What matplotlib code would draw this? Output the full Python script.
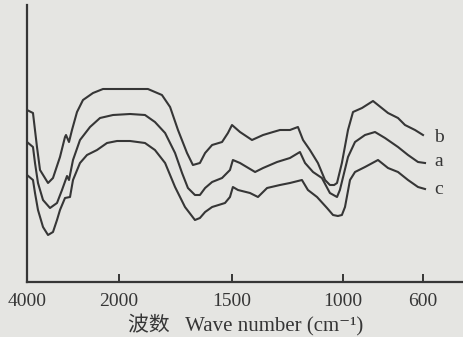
import numpy as np
import matplotlib
matplotlib.use('Agg')
import matplotlib.pyplot as plt


# wavenumbers (cm-1) and transmittance (arbitrary units)
wn_b = [4000, 3870, 3783, 3717, 3543, 3435, 3283, 3174, 3152, 3087, 3022, 2913, 2783, 2565, 2348,
        1951, 1872, 1810, 1774, 1739, 1699, 1673, 1642, 1619, 1588, 1544, 1518, 1500, 1464, 1410,
        1360, 1315, 1284, 1239, 1203, 1180, 1149, 1113, 1081, 1059, 1040, 1027, 1005, 975, 950,
        905, 850, 825, 775, 725, 690, 640, 600]
tr_b = [172, 169, 135, 112, 99, 104, 125, 145, 147, 140, 152, 170, 182, 189, 193,
        193, 193, 187, 175, 152, 129, 117, 119, 129, 137, 140, 149, 157, 150, 142,
        147, 150, 152, 152, 155, 142, 132, 119, 102, 97, 97, 99, 119, 152, 170,
        174, 181, 177, 169, 164, 157, 152, 147]

wn_a = [4000, 3870, 3826, 3761, 3652, 3500, 3348, 3239, 3130, 3087, 3000, 2848, 2630, 2413, 2130,
        1951, 1885, 1841, 1796, 1752, 1721, 1695, 1664, 1642, 1619, 1588, 1544, 1509, 1496, 1464,
        1396, 1360, 1297, 1239, 1194, 1171, 1135, 1095, 1059, 1027, 1014, 975, 940, 890, 840,
        790, 725, 675, 625, 590]
tr_a = [140, 135, 119, 99, 82, 74, 79, 92, 106, 102, 122, 142, 155, 164, 167,
        168, 167, 160, 149, 129, 109, 94, 87, 87, 94, 100, 104, 112, 122, 119,
        110, 114, 120, 124, 130, 119, 110, 104, 89, 85, 92, 125, 140, 147, 150,
        144, 135, 127, 120, 119]

wn_c = [4000, 3870, 3826, 3761, 3652, 3543, 3435, 3348, 3283, 3174, 3065, 3000, 2848, 2696, 2478,
        2261, 2043, 1951, 1885, 1841, 1796, 1752, 1708, 1664, 1642, 1619, 1588, 1531, 1509, 1496,
        1473, 1419, 1383, 1342, 1284, 1239, 1185, 1158, 1117, 1072, 1045, 1023, 1005, 990, 965,
        940, 890, 825, 775, 725, 675, 625, 590]
tr_c = [107, 102, 89, 72, 55, 47, 50, 62, 72, 84, 85, 102, 119, 127, 132,
        139, 141, 141, 139, 132, 119, 95, 75, 62, 64, 70, 75, 79, 85, 95,
        92, 89, 85, 94, 97, 99, 102, 92, 85, 74, 67, 66, 67, 75, 102,
        110, 115, 122, 114, 110, 102, 95, 93]

tick_vals = [4000, 2000, 1500, 1000, 600]
tick_labels = ['4000', '2000', '1500', '1000', '600']

# the printed axis is stretched below 2000 cm-1 (piecewise linear scale)
knots_w = np.array([0, 600, 1000, 1500, 2000, 4000])
knots_p = np.array([0, 120, 200, 311, 424, 516])


def fwd(w):
    return np.interp(np.asarray(w, dtype=float), knots_w, knots_p)


def inv(p):
    return np.interp(np.asarray(p, dtype=float), knots_p, knots_w)


paper = '#e5e5e2'
ink = '#363636'
serif = ['Liberation Serif', 'Noto Sans CJK SC', 'DejaVu Sans']

fig = plt.figure(figsize=(4.64, 3.37), dpi=100)
fig.patch.set_facecolor(paper)
ax = fig.add_axes([27 / 464, 55 / 337, 437 / 464, 277 / 337])
ax.set_facecolor(paper)

ax.set_xscale('function', functions=(fwd, inv))
ax.set_xlim(4000, 395)
ax.set_ylim(0, 277)

for wn, tr in [(wn_b, tr_b), (wn_a, tr_a), (wn_c, tr_c)]:
    ax.plot(wn, tr, color=ink, lw=1.5, solid_joinstyle='round')

ax.text(545, 145, 'b', family=serif, fontsize=14, color=ink, va='center', ha='left')
ax.text(545, 120, 'a', family=serif, fontsize=14, color=ink, va='center', ha='left')
ax.text(545, 92, 'c', family=serif, fontsize=14, color=ink, va='center', ha='left')

ax.spines['top'].set_visible(False)
ax.spines['right'].set_visible(False)
ax.spines['left'].set_linewidth(1.6)
ax.spines['bottom'].set_linewidth(1.6)
ax.spines['left'].set_color(ink)
ax.spines['bottom'].set_color(ink)

ax.set_yticks([])
ax.set_xticks(tick_vals)
ax.set_xticklabels(tick_labels, family=serif, fontsize=14, color=ink)
ax.tick_params(axis='x', direction='in', length=6, width=1.4, color=ink, pad=8)
ax.minorticks_off()

ax.set_xlabel('波数   Wave number (cm⁻¹)', family=serif, fontsize=15, color=ink, labelpad=3)

fig.savefig('out.png', dpi=100, facecolor=paper)
